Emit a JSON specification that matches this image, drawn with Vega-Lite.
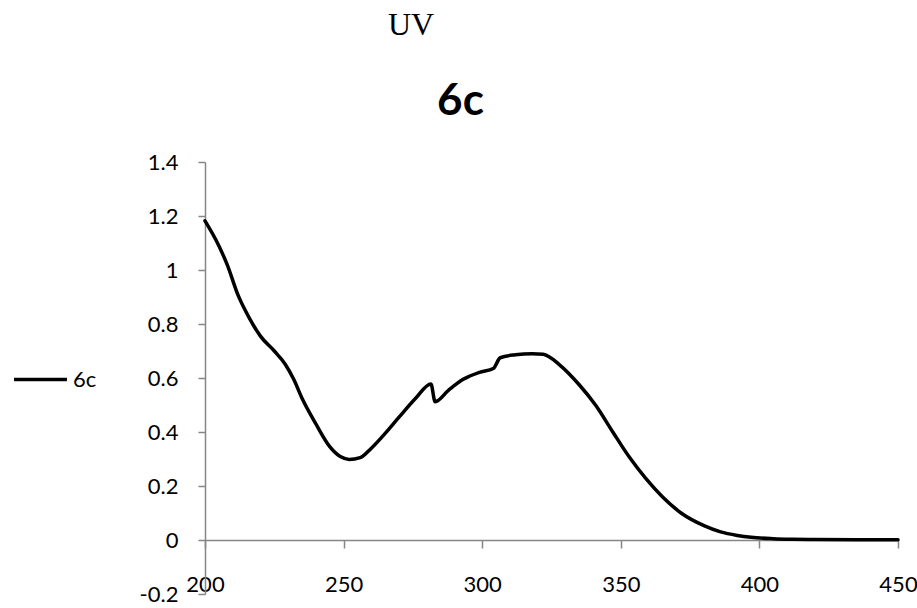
{
  "$schema": "https://vega.github.io/schema/vega-lite/v6.json",
  "background": "white",
  "padding": {"left": 12, "top": 9, "right": 0, "bottom": 0},
  "title": {"text": "UV", "font": "Liberation Serif", "fontSize": 32, "fontWeight": "normal", "color": "black", "anchor": "start", "dx": 376, "offset": 38},
  "config": {"view": {"stroke": null}, "legend": {"labelFontSize": 22, "labelFont": "Lato"}},
  "vconcat": [
    {
      "title": {"text": "6c", "font": "Lato", "fontSize": 44, "fontWeight": "bold", "color": "black", "anchor": "start", "dx": 298, "offset": 27},
      "width": 693,
      "height": 432,
      "data": {"values": [
        {"wavelength": 200, "absorbance": 1.182, "series": "6c"},
        {"wavelength": 204, "absorbance": 1.11, "series": "6c"},
        {"wavelength": 208, "absorbance": 1.02, "series": "6c"},
        {"wavelength": 212, "absorbance": 0.905, "series": "6c"},
        {"wavelength": 216, "absorbance": 0.822, "series": "6c"},
        {"wavelength": 220, "absorbance": 0.755, "series": "6c"},
        {"wavelength": 225, "absorbance": 0.7, "series": "6c"},
        {"wavelength": 229, "absorbance": 0.65, "series": "6c"},
        {"wavelength": 232, "absorbance": 0.595, "series": "6c"},
        {"wavelength": 235, "absorbance": 0.525, "series": "6c"},
        {"wavelength": 240, "absorbance": 0.43, "series": "6c"},
        {"wavelength": 245, "absorbance": 0.346, "series": "6c"},
        {"wavelength": 249, "absorbance": 0.308, "series": "6c"},
        {"wavelength": 252, "absorbance": 0.298, "series": "6c"},
        {"wavelength": 256, "absorbance": 0.305, "series": "6c"},
        {"wavelength": 260, "absorbance": 0.34, "series": "6c"},
        {"wavelength": 265, "absorbance": 0.395, "series": "6c"},
        {"wavelength": 270, "absorbance": 0.455, "series": "6c"},
        {"wavelength": 276, "absorbance": 0.525, "series": "6c"},
        {"wavelength": 281.5, "absorbance": 0.578, "series": "6c"},
        {"wavelength": 283, "absorbance": 0.512, "series": "6c"},
        {"wavelength": 288, "absorbance": 0.556, "series": "6c"},
        {"wavelength": 293, "absorbance": 0.594, "series": "6c"},
        {"wavelength": 299, "absorbance": 0.621, "series": "6c"},
        {"wavelength": 304, "absorbance": 0.635, "series": "6c"},
        {"wavelength": 306.5, "absorbance": 0.675, "series": "6c"},
        {"wavelength": 312, "absorbance": 0.686, "series": "6c"},
        {"wavelength": 318, "absorbance": 0.69, "series": "6c"},
        {"wavelength": 322, "absorbance": 0.688, "series": "6c"},
        {"wavelength": 328, "absorbance": 0.648, "series": "6c"},
        {"wavelength": 335, "absorbance": 0.575, "series": "6c"},
        {"wavelength": 341, "absorbance": 0.498, "series": "6c"},
        {"wavelength": 347, "absorbance": 0.402, "series": "6c"},
        {"wavelength": 353, "absorbance": 0.308, "series": "6c"},
        {"wavelength": 359, "absorbance": 0.228, "series": "6c"},
        {"wavelength": 365, "absorbance": 0.16, "series": "6c"},
        {"wavelength": 372, "absorbance": 0.098, "series": "6c"},
        {"wavelength": 380, "absorbance": 0.053, "series": "6c"},
        {"wavelength": 386, "absorbance": 0.03, "series": "6c"},
        {"wavelength": 392, "absorbance": 0.017, "series": "6c"},
        {"wavelength": 397, "absorbance": 0.01, "series": "6c"},
        {"wavelength": 405, "absorbance": 0.005, "series": "6c"},
        {"wavelength": 412, "absorbance": 0.003, "series": "6c"},
        {"wavelength": 420, "absorbance": 0.002, "series": "6c"},
        {"wavelength": 435, "absorbance": 0.001, "series": "6c"},
        {"wavelength": 450, "absorbance": 0.001, "series": "6c"}
      ]},
      "mark": {"type": "line", "strokeWidth": 3.5, "interpolate": "monotone", "strokeCap": "round"},
      "encoding": {
        "x": {
          "field": "wavelength", "type": "quantitative",
          "scale": {"domain": [200, 450], "nice": false, "zero": false},
          "axis": {"title": null, "values": [200, 250, 300, 350, 400, 450], "offset": -54, "grid": false,
            "domainColor": "#868686", "domainWidth": 1.5, "tickColor": "#868686", "tickWidth": 1.5, "tickSize": 8,
            "labelFont": "Lato", "labelFontSize": 22, "labelColor": "black", "labelPadding": 26,
            "labelFlush": false, "labelOverlap": false}
        },
        "y": {
          "field": "absorbance", "type": "quantitative",
          "scale": {"domain": [-0.2, 1.4], "nice": false, "zero": false},
          "axis": {"title": null, "values": [-0.2, 0, 0.2, 0.4, 0.6, 0.8, 1, 1.2, 1.4], "grid": false,
            "labelExpr": "datum.value < 0 ? '-' + format(-datum.value, '~g') : format(datum.value, '~g')",
            "domainColor": "#868686", "domainWidth": 1.5, "tickColor": "#868686", "tickWidth": 1.5, "tickSize": 7,
            "labelFont": "Lato", "labelFontSize": 22, "labelColor": "black", "labelPadding": 20,
            "labelFlush": false, "labelOverlap": false}
        },
        "stroke": {
          "field": "series", "type": "nominal",
          "scale": {"range": ["black"]},
          "legend": {"title": null, "orient": "none", "legendX": -193, "legendY": 189, "padding": 0,
            "symbolType": "stroke", "symbolSize": 2800, "symbolStrokeWidth": 3.5, "symbolStrokeColor": "black",
            "labelFont": "Lato", "labelFontSize": 22, "labelColor": "black", "labelOffset": 4}
        }
      }
    }
  ]
}
